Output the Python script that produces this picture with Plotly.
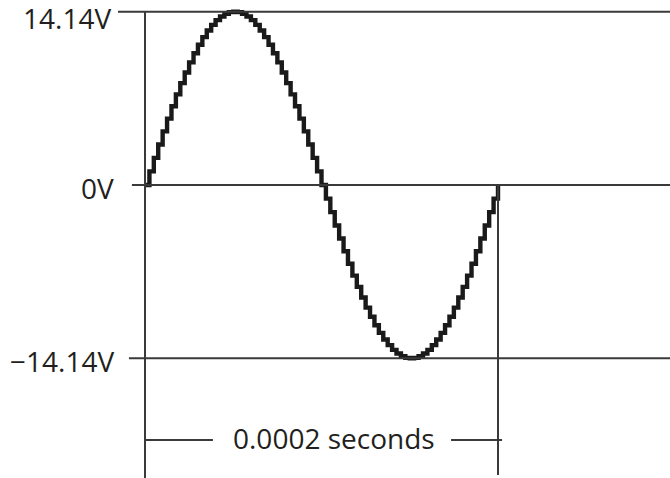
import plotly.graph_objects as go

# One full cycle of the AC voltage, sampled every 2.5 microseconds
time_us = [i * 2.5 for i in range(81)]
volts = [
    0.00, 1.11, 2.21, 3.30, 4.37, 5.41, 6.42, 7.39, 8.31, 9.18,
    10.00, 10.75, 11.44, 12.06, 12.60, 13.06, 13.45, 13.75, 13.97, 14.10,
    14.14, 14.10, 13.97, 13.75, 13.45, 13.06, 12.60, 12.06, 11.44, 10.75,
    10.00, 9.18, 8.31, 7.39, 6.42, 5.41, 4.37, 3.30, 2.21, 1.11,
    0.00, -1.11, -2.21, -3.30, -4.37, -5.41, -6.42, -7.39, -8.31, -9.18,
    -10.00, -10.75, -11.44, -12.06, -12.60, -13.06, -13.45, -13.75, -13.97, -14.10,
    -14.14, -14.10, -13.97, -13.75, -13.45, -13.06, -12.60, -12.06, -11.44, -10.75,
    -10.00, -9.18, -8.31, -7.39, -6.42, -5.41, -4.37, -3.30, -2.21, -1.11,
    0.00,
]

# Reference levels and their labels
levels = [14.14, 0.0, -14.14]
level_labels = ["14.14V", "0V", "\u221214.14V"]
period_label = "0.0002 seconds"
period_us = 200

INK = "#231f20"
RULE = "#3a3a3a"
FONT = dict(family="Open Sans", size=28, color=INK)

fig = go.Figure()
fig.add_trace(go.Scatter(
    x=time_us, y=volts, mode="lines",
    line=dict(color="#1a1a1a", width=4.4, shape="hv"),
    hoverinfo="skip", showlegend=False,
))

X_MIN, X_MAX = -82.15, 297.45
Y_MIN, Y_MAX = -23.90, 15.09
y_right_end = -23.65
y_bracket = -20.80

shapes = []
# horizontal reference lines (left ends staggered)
for lvl, x0 in zip(levels, [-15.3, -7.4, -9.1]):
    shapes.append(dict(type="line", x0=x0, x1=X_MAX, y0=lvl, y1=lvl,
                       line=dict(color=RULE, width=2)))
# vertical markers at start and end of the cycle
shapes.append(dict(type="line", x0=0, x1=0, y0=levels[0], y1=Y_MIN,
                   line=dict(color=RULE, width=2)))
shapes.append(dict(type="line", x0=period_us, x1=period_us, y0=0, y1=y_right_end,
                   line=dict(color=RULE, width=2)))
# period bracket either side of the label
shapes.append(dict(type="line", x0=0, x1=38.5, y0=y_bracket, y1=y_bracket,
                   line=dict(color=RULE, width=2)))
shapes.append(dict(type="line", x0=173.4, x1=202.3, y0=y_bracket, y1=y_bracket,
                   line=dict(color=RULE, width=2)))

annotations = []
for lvl, txt, xs, ys in zip(levels, level_labels, [-18.1, -16.7, -16.7], [-6, -3, -3]):
    annotations.append(dict(x=xs, y=lvl, text=txt, showarrow=False,
                            xanchor="right", yanchor="middle", yshift=ys,
                            font=FONT))
annotations.append(dict(x=107.0, y=y_bracket, text=period_label, showarrow=False,
                        xanchor="center", yanchor="middle", yshift=2, font=FONT))

fig.update_layout(
    width=670, height=478,
    margin=dict(l=0, r=0, t=0, b=0),
    paper_bgcolor="white", plot_bgcolor="white",
    xaxis=dict(range=[X_MIN, X_MAX], visible=False, fixedrange=True),
    yaxis=dict(range=[Y_MIN, Y_MAX], visible=False, fixedrange=True),
    shapes=shapes, annotations=annotations,
    showlegend=False,
)

fig.write_html("out.html")
